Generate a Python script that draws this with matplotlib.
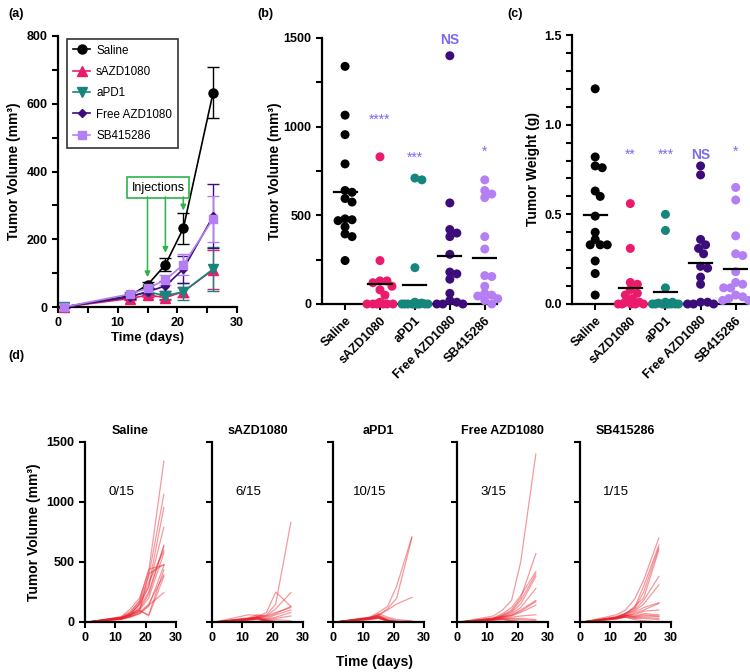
import numpy as np
import matplotlib.pyplot as plt
from matplotlib.lines import Line2D

plt.rcParams['font.family'] = ['Liberation Sans', 'DejaVu Sans']

W, H = 750, 672

groups = ['Saline', 'sAZD1080', 'aPD1', 'Free AZD1080', 'SB415286']
colors = ['#000000', '#ec1a6b', '#16857b', '#3c0c7a', '#b47ff2']
markers = ['o', '^', 'v', 'D', 's']
msizes = [6.5, 6.5, 6.5, 4.5, 6]

# (a) mean tumour volume +/- error
days = [1, 12, 15, 18, 21, 26]
mean_vol = {
    'Saline':       [0, 33, 65, 125, 232, 633],
    'sAZD1080':     [0, 25, 35, 28, 45, 110],
    'aPD1':         [0, 30, 45, 33, 45, 112],
    'Free AZD1080': [0, 30, 45, 62, 112, 268],
    'SB415286':     [0, 38, 55, 80, 125, 260],
}
err_vol = {
    'Saline':       [0, 5, 8, 20, 45, 75],
    'sAZD1080':     [0, 5, 5, 8, 15, 58],
    'aPD1':         [0, 5, 8, 8, 25, 65],
    'Free AZD1080': [0, 5, 10, 15, 40, 95],
    'SB415286':     [0, 5, 10, 15, 30, 68],
}

# (d) individual tumour volumes, one row per mouse (days as above)
vol_saline = [
    [0, 45, 110, 200, 420, 1340], [0, 40, 90, 170, 380, 1065], [0, 35, 70, 150, 300, 955],
    [0, 30, 75, 140, 290, 790], [0, 38, 60, 120, 250, 640], [0, 30, 65, 110, 230, 630],
    [0, 25, 55, 160, 330, 595], [0, 40, 80, 180, 440, 475], [0, 28, 50, 90, 400, 480],
    [0, 35, 60, 100, 200, 575], [0, 20, 40, 70, 130, 470], [0, 30, 55, 90, 60, 435],
    [0, 25, 45, 80, 150, 395], [0, 35, 60, 100, 50, 380], [0, 25, 45, 70, 140, 245],
]
vol_sazd = [
    [0, 25, 40, 60, 150, 830], [0, 30, 45, 80, 250, 130], [0, 20, 35, 50, 110, 245],
    [0, 60, 55, 40, 70, 130], [0, 35, 60, 50, 80, 120], [0, 25, 40, 30, 60, 100],
    [0, 30, 45, 25, 40, 80], [0, 20, 30, 20, 30, 50], [0, 25, 35, 15, 20, 10],
    [0, 20, 30, 10, 5, 0], [0, 15, 25, 10, 0, 0], [0, 30, 40, 15, 5, 0],
    [0, 20, 25, 5, 0, 0], [0, 15, 20, 5, 0, 0], [0, 25, 30, 10, 0, 0],
]
vol_apd1 = [
    [0, 40, 80, 130, 300, 710], [0, 35, 60, 110, 200, 700], [0, 30, 55, 100, 150, 205],
    [0, 30, 70, 40, 20, 10], [0, 25, 50, 30, 10, 5], [0, 35, 60, 20, 5, 0],
    [0, 30, 45, 15, 0, 0], [0, 25, 40, 10, 0, 0], [0, 40, 50, 15, 5, 0],
    [0, 20, 35, 10, 0, 0], [0, 30, 40, 5, 0, 0], [0, 25, 30, 10, 0, 0],
    [0, 35, 45, 15, 0, 0], [0, 20, 30, 5, 0, 0], [0, 30, 35, 10, 0, 0],
]
vol_free = [
    [0, 50, 100, 180, 500, 1400], [0, 30, 60, 100, 200, 570], [0, 35, 70, 120, 220, 420],
    [0, 30, 55, 90, 180, 400], [0, 25, 50, 80, 150, 380], [0, 30, 45, 70, 120, 280],
    [0, 20, 40, 60, 100, 180], [0, 25, 45, 55, 90, 170], [0, 30, 40, 50, 80, 140],
    [0, 20, 35, 40, 50, 60], [0, 25, 30, 30, 30, 20], [0, 20, 30, 25, 20, 10],
    [0, 15, 25, 15, 5, 0], [0, 20, 20, 10, 0, 0], [0, 15, 20, 10, 0, 0],
]
vol_sb = [
    [0, 60, 100, 190, 350, 700], [0, 40, 70, 120, 300, 640], [0, 45, 75, 110, 250, 620],
    [0, 40, 65, 130, 200, 600], [0, 35, 60, 100, 180, 380], [0, 40, 70, 90, 150, 310],
    [0, 35, 55, 80, 120, 160], [0, 30, 50, 70, 100, 155], [0, 35, 55, 60, 90, 100],
    [0, 30, 50, 50, 70, 60], [0, 35, 55, 45, 60, 50], [0, 30, 50, 40, 50, 45],
    [0, 25, 45, 35, 40, 30], [0, 30, 40, 30, 30, 20], [0, 25, 40, 20, 10, 0],
]
traj = [vol_saline, vol_sazd, vol_apd1, vol_free, vol_sb]
fractions = ['0/15', '6/15', '10/15', '3/15', '1/15']

# (c) tumour weight (g)
weight = [
    [1.2, 0.82, 0.77, 0.76, 0.63, 0.60, 0.49, 0.40, 0.36, 0.33, 0.33, 0.33, 0.24, 0.17, 0.05],
    [0.56, 0.31, 0.12, 0.11, 0.08, 0.06, 0.05, 0.03, 0.01, 0.01, 0, 0, 0, 0, 0],
    [0.50, 0.41, 0.09, 0.01, 0.01, 0.005, 0, 0, 0, 0, 0, 0, 0, 0, 0],
    [0.77, 0.72, 0.36, 0.33, 0.31, 0.28, 0.21, 0.20, 0.15, 0.11, 0.01, 0.01, 0, 0, 0],
    [0.65, 0.58, 0.38, 0.28, 0.27, 0.18, 0.12, 0.11, 0.09, 0.09, 0.05, 0.04, 0.03, 0.02, 0.02],
]
sig_b = ['', '****', '***', 'NS', '*']
sig_b_y = [0, 1040, 825, 1490, 860]
sig_c = ['', '**', '***', 'NS', '*']
sig_c_y = [0, 0.83, 0.83, 0.83, 0.85]
sig_color = '#7a6cf0'


def box(l, t, r, b):
    return [l / W, 1 - b / H, (r - l) / W, (b - t) / H]


def style(ax):
    for s in ['top', 'right']:
        ax.spines[s].set_visible(False)
    for s in ['left', 'bottom']:
        ax.spines[s].set_linewidth(1.6)
    ax.tick_params(which='both', direction='out', width=1.5, labelsize=9)
    ax.tick_params(which='major', length=4)
    ax.tick_params(which='minor', length=4)
    for lab in ax.get_xticklabels() + ax.get_yticklabels():
        lab.set_fontweight('bold')


def swarm(vals, h_px, ymax, sep=7.0, max_off=13, px_per_unit=35.0):
    # greedy beeswarm in pixel space, offsets limited to +-max_off px
    vals = np.asarray(vals, float)
    ypx = vals / ymax * h_px
    xs = np.zeros(len(vals))
    placed = []
    cands = [0.0]
    for k in range(1, max_off + 1):
        cands += [float(k), float(-k)]
    for i in np.argsort(-vals):
        best, best_d = 0.0, -1.0
        for c in cands:
            d = min([np.hypot(c - px, ypx[i] - py) for px, py in placed] or [99.0])
            if d >= sep:
                best = c
                break
            if d > best_d:
                best, best_d = c, d
        placed.append((best, ypx[i]))
        xs[i] = best / px_per_unit
    return xs


fig = plt.figure(figsize=(W / 100, H / 100), dpi=100)

# ---------- (a)
ax = fig.add_axes(box(58, 36, 237, 307))
handles = []
for g, c, m, ms in zip(groups, colors, markers, msizes):
    ax.errorbar(days, mean_vol[g], yerr=err_vol[g], fmt='none', ecolor=c,
                capsize=4, elinewidth=1, capthick=1, clip_on=False, zorder=2)
    ax.plot(days, mean_vol[g], color=c, marker=m, ms=ms, lw=1.2, clip_on=False, zorder=3)
    handles.append(Line2D([], [], color=c, marker=m, ms=ms, lw=1.2, label=g))
ax.set_xlim(0, 30)
ax.set_ylim(0, 800)
ax.set_xticks([0, 10, 20, 30])
ax.set_xticks([5, 15, 25], minor=True)
ax.set_yticks([0, 200, 400, 600, 800])
ax.set_yticks([100, 300, 500, 700], minor=True)
ax.set_xlabel('Time (days)', fontsize=9.5, fontweight='bold', labelpad=2)
ax.set_ylabel('Tumor Volume (mm³)', fontsize=10, fontweight='bold')
style(ax)
leg = ax.legend(handles=handles, loc='upper left', bbox_to_anchor=(0.05, 0.99), fontsize=8.4,
                frameon=True, fancybox=False, edgecolor='black', handlelength=1.5,
                handletextpad=0.5, borderaxespad=0, labelspacing=0.8, borderpad=0.5)
leg.get_frame().set_linewidth(1.2)
green = '#2fb14c'
ax.text(16.8, 352, 'Injections', ha='center', va='center', fontsize=9,
        bbox=dict(boxstyle='square,pad=0.35', fc='white', ec=green, lw=1.2))
for xd, yd in zip([15, 18, 21], [88, 160, 285]):
    ax.annotate('', xy=(xd, yd), xytext=(xd, 325),
                arrowprops=dict(arrowstyle='-|>', color=green, lw=1.1,
                                mutation_scale=8, shrinkA=0, shrinkB=0))
fig.text(8 / W, 1 - 14 / H, '(a)', fontsize=9, fontweight='bold', va='center')

# ---------- (b) and (c)
final_vol = [[row[-1] for row in t] for t in traj]
for data, bx, ymax, ystep, yminor, ylab, sig, sig_y, lab, lpad in [
        (final_vol, (322, 38, 497, 304), 1500, 500, 250, 'Tumor Volume (mm³)', sig_b, sig_b_y, '(b)', 1),
        (weight, (572, 35, 748, 304), 1.5, 0.5, 0.1, 'Tumor Weight (g)', sig_c, sig_c_y, '(c)', 3)]:
    ax = fig.add_axes(box(*bx))
    h_px = bx[3] - bx[1]
    for i, (vals, c) in enumerate(zip(data, colors)):
        xo = swarm(vals, h_px, ymax)
        ax.scatter(i + xo, vals, s=42, color=c, edgecolors='none', zorder=3, clip_on=False)
        mu = np.mean(vals)
        ax.plot([i - 0.33, i + 0.33], [mu, mu], color='black', lw=1.6, zorder=4)
        if sig[i]:
            if sig[i] == 'NS':
                ax.text(i, sig_y[i], sig[i], ha='center', va='center', color=sig_color,
                        fontsize=10, fontweight='bold')
            else:
                ax.text(i, sig_y[i], sig[i], ha='center', va='center', color=sig_color,
                        fontsize=10)
    ax.set_xlim(-0.66, 4.35)
    ax.set_ylim(0, ymax)
    ax.set_yticks(np.arange(0, ymax + ystep / 2, ystep))
    ax.set_yticks(np.arange(0, ymax + yminor / 2, yminor), minor=True)
    ax.set_xticks(range(5))
    ax.set_xticklabels(groups, rotation=45, ha='right', rotation_mode='anchor')
    ax.set_ylabel(ylab, fontsize=10, fontweight='bold', labelpad=lpad)
    style(ax)
    fig.text((bx[0] - 65) / W, 1 - 14 / H, lab, fontsize=9, fontweight='bold', va='center')

# ---------- (d)
lefts = [85, 212, 333, 457, 580]
for k, (g, t, fr) in enumerate(zip(groups, traj, fractions)):
    ax = fig.add_axes(box(lefts[k], 442, lefts[k] + 91, 622))
    for row in t:
        ax.plot(days, row, color='#e8202a', alpha=0.45, lw=0.9)
    ax.set_xlim(0, 30)
    ax.set_ylim(0, 1500)
    ax.set_xticks([0, 10, 20, 30])
    ax.set_yticks([0, 500, 1000, 1500])
    style(ax)
    if k > 0:
        ax.set_yticklabels([])
    else:
        ax.set_ylabel('Tumor Volume (mm³)', fontsize=10, fontweight='bold')
    ax.set_title(g, fontsize=9, fontweight='bold', pad=6)
    ax.text(12, 1080, fr, ha='center', va='center', fontsize=9.5)
fig.text(8 / W, 1 - 356 / H, '(d)', fontsize=9, fontweight='bold', va='center')
fig.text(375 / W, 1 - 662 / H, 'Time (days)', ha='center', va='center',
         fontsize=10, fontweight='bold')

fig.savefig('out.png', dpi=100)
